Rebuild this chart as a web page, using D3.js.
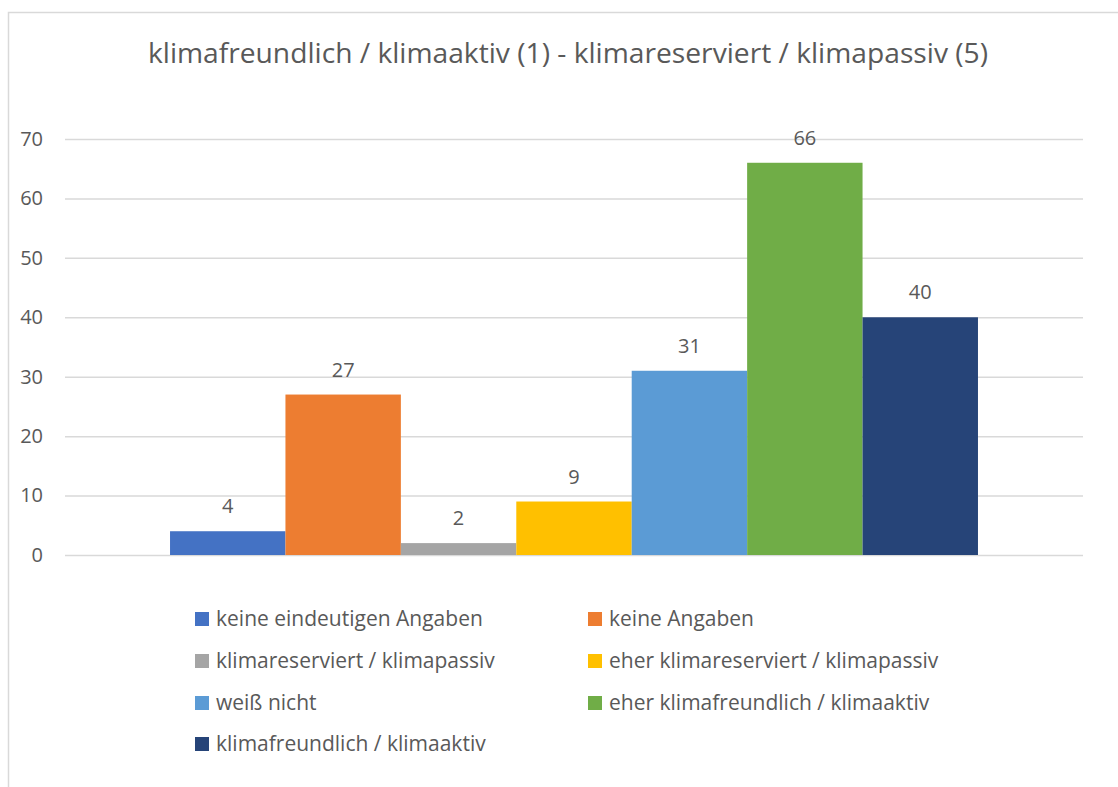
<!DOCTYPE html>
<html>
<head>
<meta charset="utf-8">
<script src="https://cdn.jsdelivr.net/npm/d3@7"></script>
<style>
  body { margin: 0; background: #fff; }
  text { font-family: "Open Sans", "Noto Sans", sans-serif; fill: #595959; }
</style>
</head>
<body>
<script>
const svgWidth = 1118;
const svgHeight = 787;

// Data
const categories = ["klimafreundlich / klimaaktiv (1) - klimareserviert / klimapassiv (5)"];
const seriesNames = [
  "keine eindeutigen Angaben",
  "keine Angaben",
  "klimareserviert / klimapassiv",
  "eher klimareserviert / klimapassiv",
  "weiß nicht",
  "eher klimafreundlich / klimaaktiv",
  "klimafreundlich / klimaaktiv"
];
const seriesValues = [4, 27, 2, 9, 31, 66, 40];
const seriesColors = ["#4472C4", "#ED7D31", "#A5A5A5", "#FFC000", "#5B9BD5", "#70AD47", "#264478"];
const yTicks = [0, 10, 20, 30, 40, 50, 60, 70];

const svg = d3.select("body")
  .append("svg")
  .attr("width", svgWidth)
  .attr("height", svgHeight);

// chart border
svg.append("rect")
  .attr("x", 8.5)
  .attr("y", 12.5)
  .attr("width", 1130)
  .attr("height", 800)
  .attr("fill", "none")
  .attr("stroke", "#d9d9d9")
  .attr("stroke-width", 1.5);

// title
svg.append("text")
  .attr("x", 568)
  .attr("y", 63)
  .attr("text-anchor", "middle")
  .style("font-size", "28.2px")
  .text(categories[0]);

const plotLeft = 65, plotRight = 1083;

const yScale = d3.scaleLinear()
  .domain([0, 70])
  .range([555, 139]);

const x0 = d3.scaleBand()
  .domain(categories)
  .range([plotLeft, plotRight])
  .paddingInner(0)
  .paddingOuter(0.13);

const x1 = d3.scaleBand()
  .domain(seriesNames)
  .range([0, x0.bandwidth()])
  .padding(0);

// gridlines
const yAxis = d3.axisLeft(yScale)
  .tickValues(yTicks)
  .tickSize(-(plotRight - plotLeft))
  .tickPadding(22);

const axisG = svg.append("g")
  .attr("transform", `translate(${plotLeft}, 0)`)
  .call(yAxis);
axisG.select(".domain").remove();
axisG.selectAll(".tick line")
  .attr("stroke", "#d9d9d9")
  .attr("stroke-width", 1.5);
axisG.selectAll(".tick text")
  .style("font-size", "20px")
  .attr("fill", "#595959");

// bars
const group = svg.append("g")
  .attr("transform", `translate(${x0(categories[0])}, 0)`);

group.selectAll("rect")
  .data(seriesValues)
  .enter()
  .append("rect")
  .attr("x", (d, i) => x1(seriesNames[i]))
  .attr("y", d => yScale(d))
  .attr("width", x1.bandwidth())
  .attr("height", d => yScale(0) - yScale(d))
  .attr("fill", (d, i) => seriesColors[i]);

// value labels
group.selectAll("text.val")
  .data(seriesValues)
  .enter()
  .append("text")
  .attr("class", "val")
  .attr("x", (d, i) => x1(seriesNames[i]) + x1.bandwidth() / 2)
  .attr("y", d => yScale(d) - 18)
  .attr("text-anchor", "middle")
  .style("font-size", "20px")
  .attr("fill", "#404040")
  .text(d => d);

// legend, two columns
const legendCols = [195, 588];
const legendRows = [619, 661, 703, 744];

const legend = svg.append("g");
const items = legend.selectAll("g")
  .data(seriesNames)
  .enter()
  .append("g")
  .attr("transform", (d, i) => `translate(${legendCols[i % 2]}, ${legendRows[Math.floor(i / 2)]})`);

items.append("rect")
  .attr("x", 0)
  .attr("y", -7)
  .attr("width", 14)
  .attr("height", 14)
  .attr("fill", (d, i) => seriesColors[i]);

items.append("text")
  .attr("x", 21)
  .attr("y", 0)
  .attr("dy", "0.35em")
  .style("font-size", "21px")
  .text(d => d);
</script>
</body>
</html>
